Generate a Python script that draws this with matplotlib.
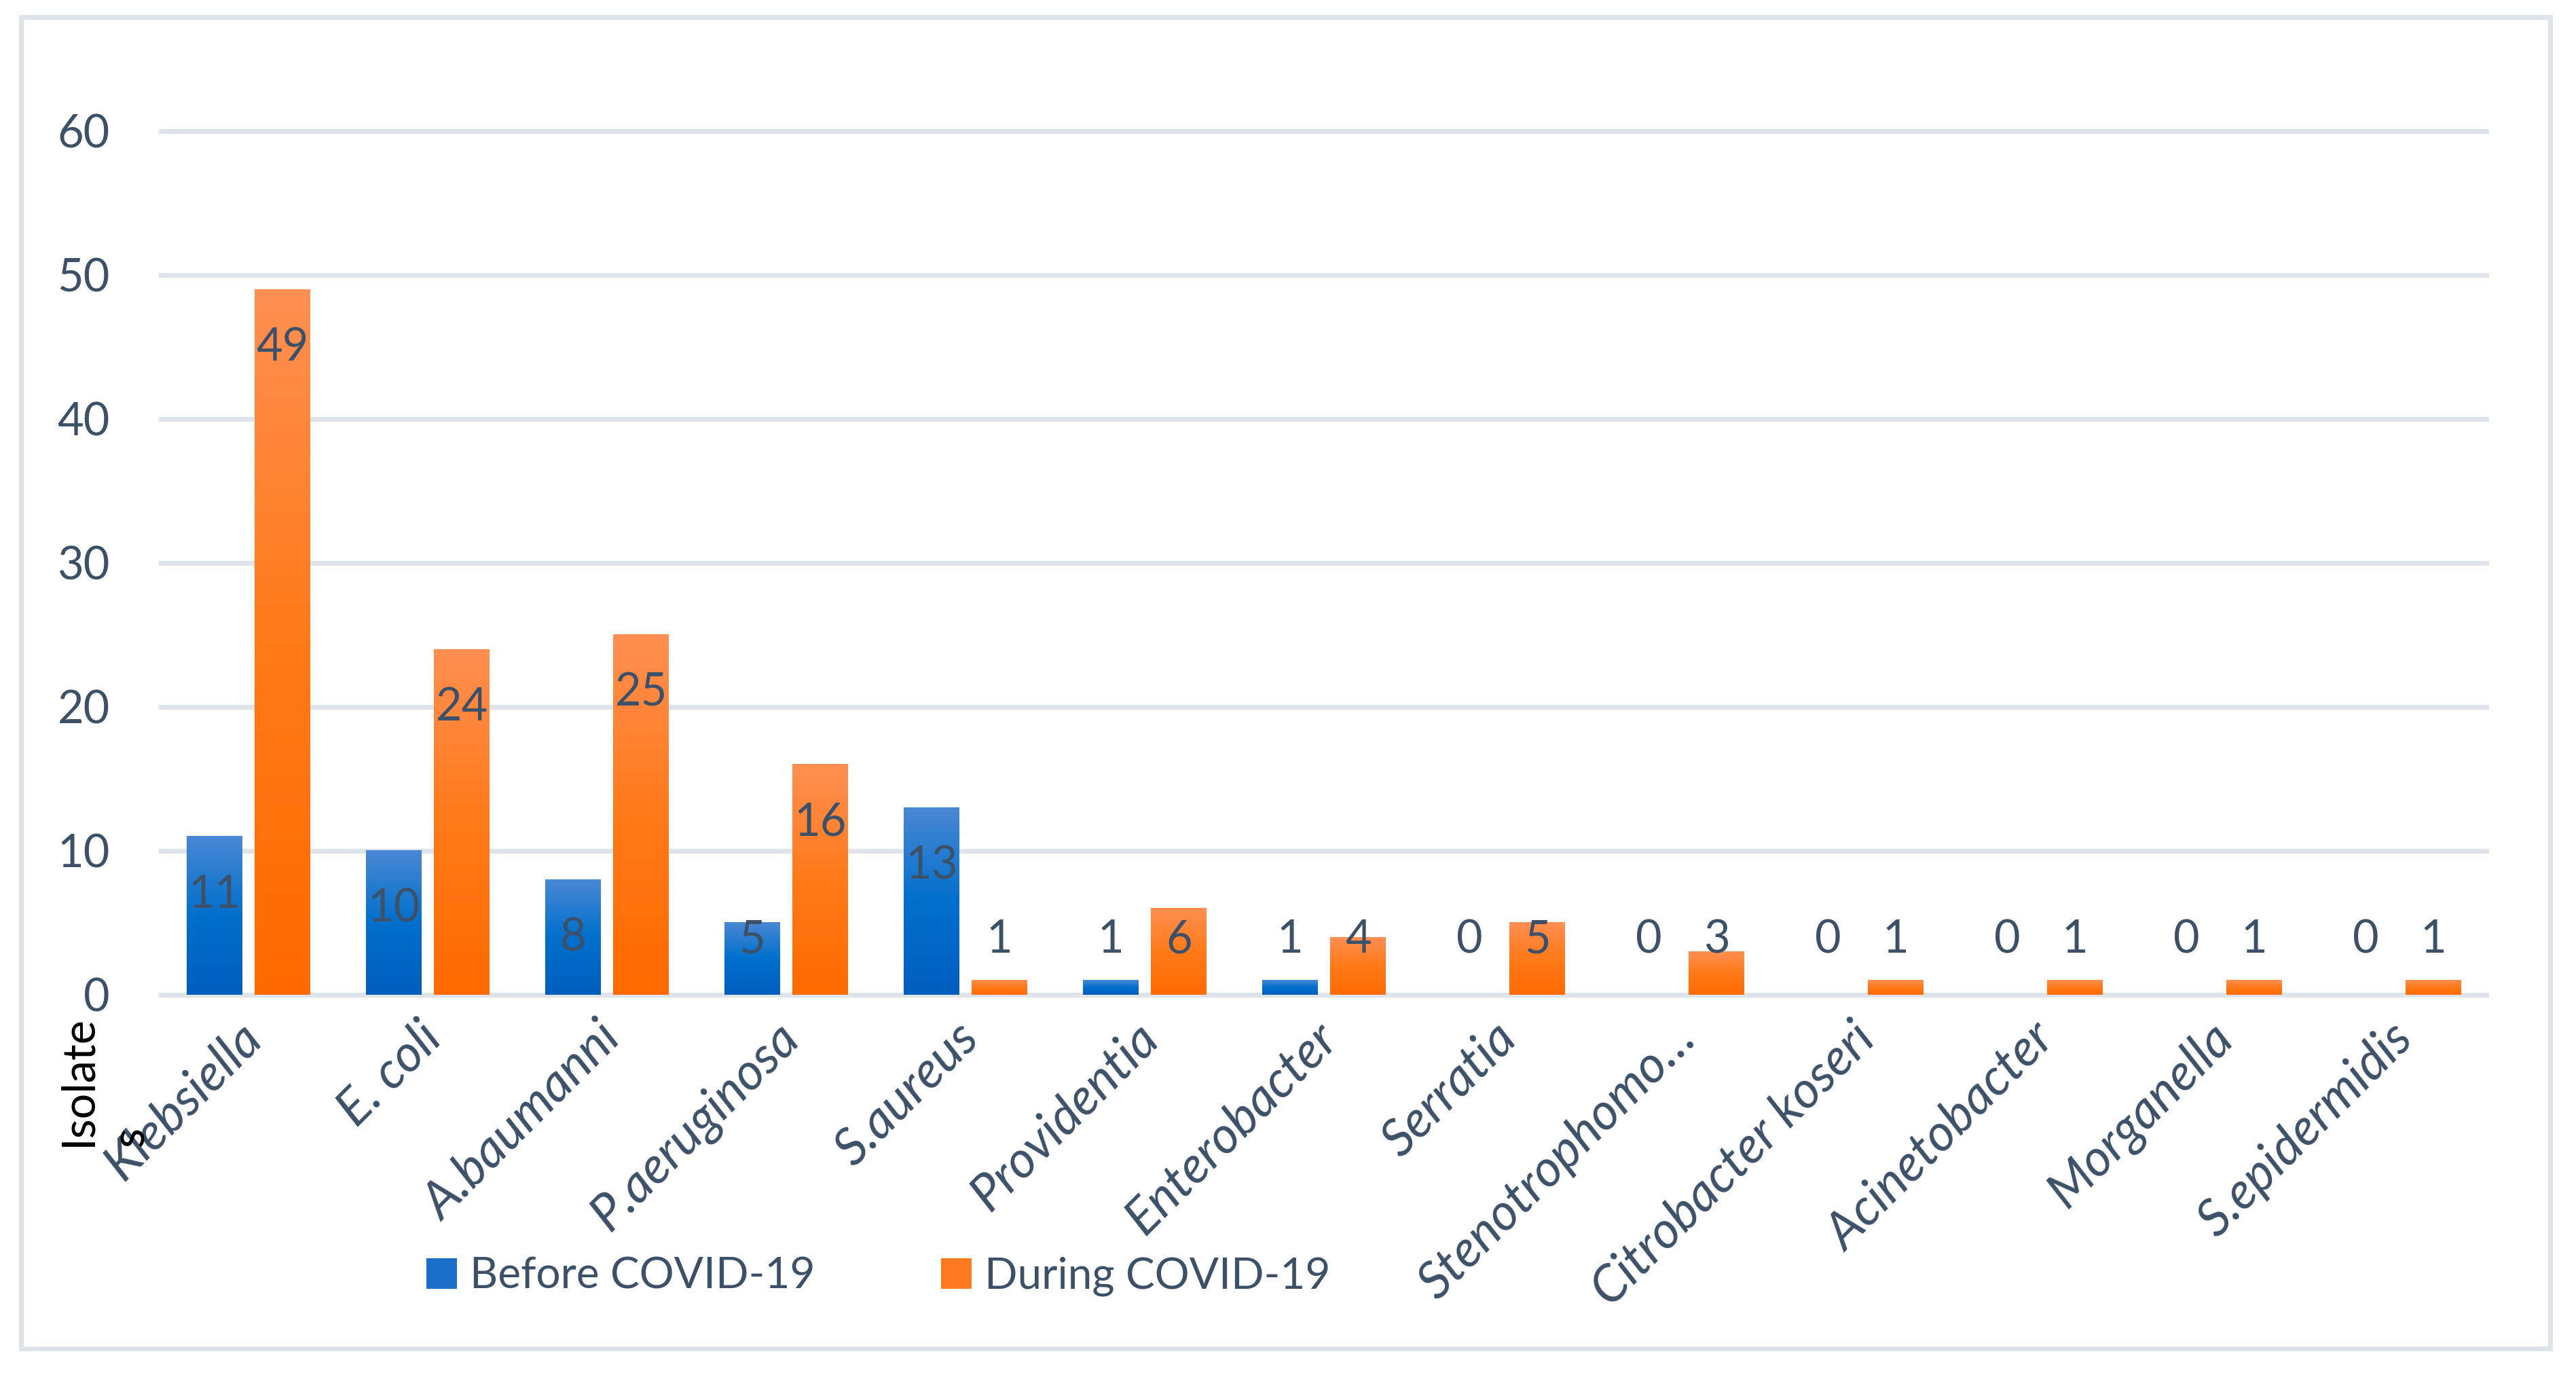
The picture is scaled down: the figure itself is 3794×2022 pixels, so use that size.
import numpy as np
import matplotlib
matplotlib.use("Agg")
import matplotlib.pyplot as plt
from matplotlib.colors import LinearSegmentedColormap
from matplotlib.patches import Rectangle, Patch

# data
organisms = ["Klebsiella", "E. coli", "A.baumanni", "P.aeruginosa", "S.aureus",
             "Providentia", "Enterobacter", "Serratia", "Stenotrophomo\u2026",
             "Citrobacter koseri", "Acinetobacter", "Morganella", "S.epidermidis"]
before_covid = [11, 10, 8, 5, 13, 1, 1, 0, 0, 0, 0, 0, 0]
during_covid = [49, 24, 25, 16, 1, 6, 4, 5, 3, 1, 1, 1, 1]
y_ticks = [0, 10, 20, 30, 40, 50, 60]

plt.rcParams['font.family'] = ['Lato', 'DejaVu Sans']
txt = '#3C5068'
grid_col = '#DEE4EA'
fs = 24

blue_map = LinearSegmentedColormap.from_list('b', ['#005EBD', '#0070CC', '#4A88D4'])
orange_map = LinearSegmentedColormap.from_list('o', ['#FF6A00', '#FF7A18', '#FF8F52'])

fig = plt.figure(figsize=(18.97, 10.11), dpi=200)
ax = fig.add_axes([0.0617, 0.2713, 0.9046, 0.6375])

x = np.arange(len(organisms))
w = 0.31
off = 0.19
b1 = ax.bar(x - off, before_covid, w, color='#1C6FC8', zorder=2)
b2 = ax.bar(x + off, during_covid, w, color='#FF7A20', zorder=2)

# gradient fill on every bar
grad = np.linspace(0, 1, 256).reshape(-1, 1)
for bars, cmap in ((b1, blue_map), (b2, orange_map)):
    for p in bars.patches:
        if p.get_height() <= 0:
            continue
        x0, y0 = p.get_x(), p.get_y()
        ax.imshow(grad, extent=[x0, x0 + p.get_width(), y0, y0 + p.get_height()],
                  origin='lower', aspect='auto', cmap=cmap, zorder=3,
                  interpolation='bilinear')

# value labels
for bars, vals in ((b1, before_covid), (b2, during_covid)):
    for p, v in zip(bars.patches, vals):
        ax.text(p.get_x() + p.get_width() / 2, max(v - 4.05, 3.8), str(v),
                ha='center', va='center', fontsize=fs, color=txt, zorder=4)

ax.set_xlim(-0.5, len(organisms) - 0.5)
ax.set_ylim(-0.4, 60.4)
ax.set_yticks(y_ticks)
ax.set_yticklabels([str(t) for t in y_ticks])
ax.yaxis.grid(True, color=grid_col, linewidth=2.5, zorder=0)
ax.set_axisbelow(True)
for s in ax.spines.values():
    s.set_visible(False)
ax.tick_params(axis='y', length=0, pad=26, labelsize=fs, labelcolor=txt)
ax.tick_params(axis='x', length=0, pad=16, labelsize=27, labelcolor=txt)
ax.set_xticks(x + 0.03)
ax.set_xticklabels(organisms, rotation=45, ha='right', va='center',
                   rotation_mode='anchor', style='italic')

fig.text(84 / 3794, 0.165, "Isolate\ns", rotation=90, ha='left', va='bottom',
         multialignment='left', fontsize=fs, color='black', linespacing=1.3)

handles = [Patch(facecolor='#1C6FC8', label='Before COVID-19'),
           Patch(facecolor='#FF7A20', label='During COVID-19')]
fig.legend(handles=handles, loc='center', bbox_to_anchor=(0.341, 0.0702), ncol=2,
           frameon=False, fontsize=23, labelcolor=txt, handlelength=0.7,
           handleheight=0.7, handletextpad=0.3, columnspacing=2.9)

fig.patches.append(Rectangle((0.00804, 0.0178), 0.982, 0.970, transform=fig.transFigure,
                             fill=False, edgecolor=grid_col, linewidth=2.5))

fig.savefig('out.png', dpi=200, facecolor='white')
